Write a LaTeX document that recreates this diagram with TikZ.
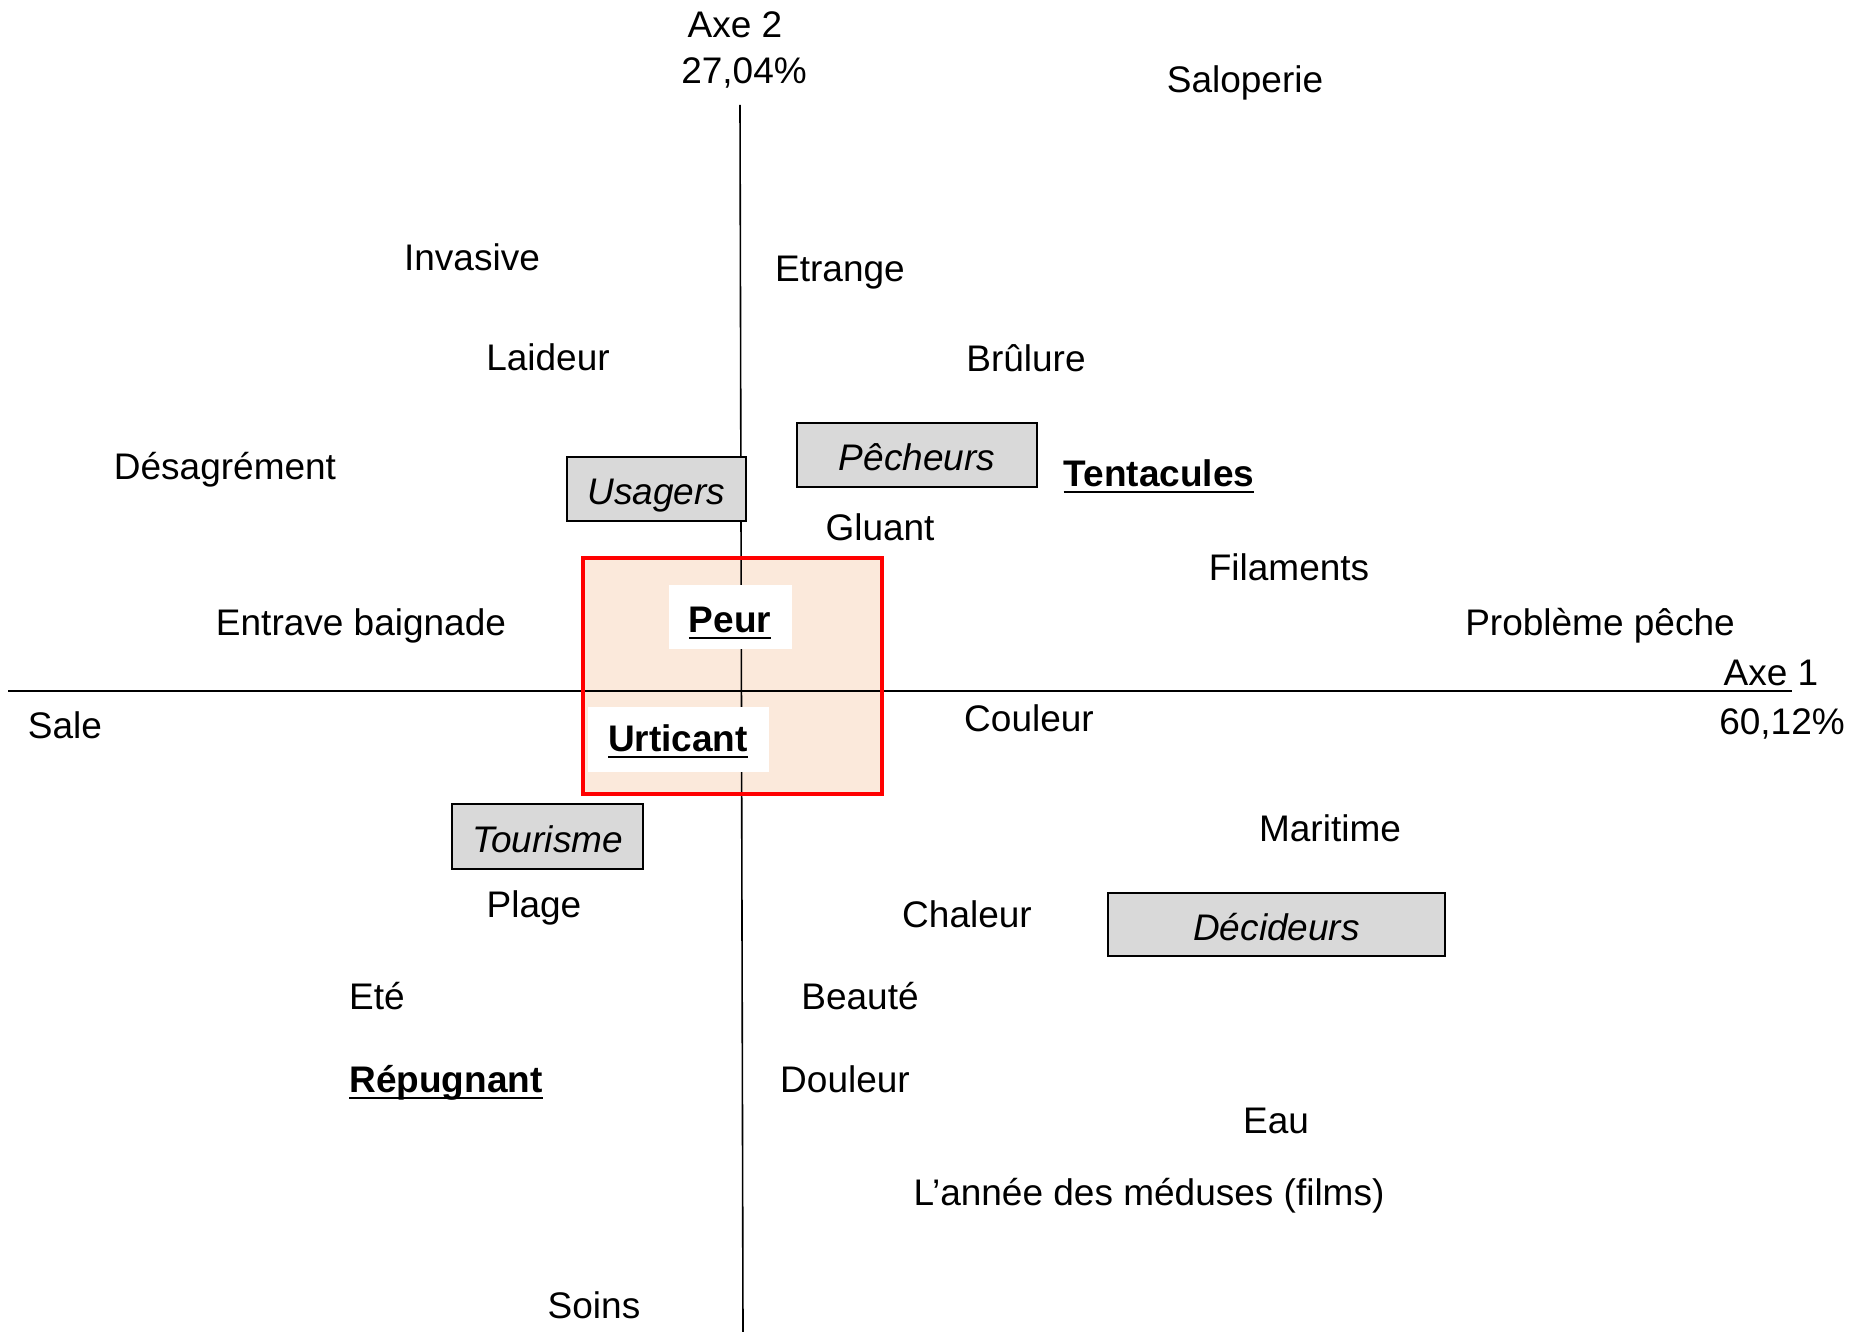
\documentclass[tikz,border=0pt]{standalone}
\usepackage{fontspec}
\setmainfont{Liberation Sans}
\newcommand\lblfont{\fontsize{18.5pt}{22pt}\selectfont}
% bold, underlined key term
\newlength\keywd
\newcommand\key[1]{\settowidth\keywd{\textbf{#1}}\textbf{#1}\llap{\rule[-3.5pt]{\keywd}{1.1pt}}}
\definecolor{zonefill}{RGB}{251,233,219}
\definecolor{groupfill}{RGB}{217,217,217}
\begin{document}
\begin{tikzpicture}[x=0.5pt,y=-0.5pt,
  lbl/.style={font=\lblfont, inner sep=0pt, text height=13.2pt, text depth=0pt, anchor=center},
  group/.style={lbl, draw=black, line width=0.8pt, fill=groupfill, font=\lblfont\itshape,
    text height=15.6pt, text depth=0pt},
  keybox/.style={lbl, fill=white},
  axis/.style={line width=0.8pt, draw=black}]
\useasboundingbox (0,0) rectangle (1849,1332);

% highlighted zone
\fill[zonefill] (583,558) rectangle (882,794);

% axes
\coordinate (x0) at (8,691);
\coordinate (x1) at (1792,691);
\coordinate (y0) at (740,105);
\coordinate (y1) at (743,1332);
\draw[axis] (x0) -- (x1);
\draw[axis] (y0) -- (y1);

\draw[red, line width=1.9pt] (583,558) rectangle (882,794);

% axis titles
\node[lbl] (ax2a) at (735,24) {Axe 2};
\node[lbl] (ax2b) at (744,70) {27,04\%};
\node[lbl] (ax1a) at (1771,672) {Axe 1};
\node[lbl] (ax1b) at (1782,721) {60,12\%};

% groups
\node[group, minimum width=89.5pt, minimum height=32pt] (usagers) at (656.5,489) {Usagers};
\node[group, minimum width=120pt, minimum height=32pt] (pecheurs) at (917,455) {Pêcheurs};
\node[group, minimum width=95.5pt, minimum height=32.5pt] (tourisme) at (547.5,836.5) {Tourisme};
\node[group, minimum width=168.5pt, minimum height=31.5pt] (decideurs) at (1276.5,924.5) {Décideurs};

% central terms
\node[keybox, minimum width=61.5pt, minimum height=32pt] (peurbox) at (730.5,617) {};
\node[lbl] (peur) at (730,619) {\key{Peur}};
\node[keybox, minimum width=90.5pt, minimum height=32.5pt] (urtbox) at (678.5,739.5) {};
\node[lbl] (urticant) at (678,738) {\key{Urticant}};

% words
\node[lbl] (saloperie) at (1245,79) {Saloperie};
\node[lbl] (invasive) at (472,257) {Invasive};
\node[lbl] (etrange) at (840,268) {Etrange};
\node[lbl] (laideur) at (548,357) {Laideur};
\node[lbl] (brulure) at (1026,358) {Brûlure};
\node[lbl] (desagrement) at (225,466) {Désagrément};
\node[lbl] (tentacules) at (1159,473) {\key{Tentacules}};
\node[lbl] (gluant) at (880,527) {Gluant};
\node[lbl] (filaments) at (1289,567) {Filaments};
\node[lbl] (entrave) at (361,622) {Entrave baignade};
\node[lbl] (probleme) at (1600,622) {Problème pêche};
\node[lbl] (sale) at (65,725) {Sale};
\node[lbl] (couleur) at (1029,718) {Couleur};
\node[lbl] (maritime) at (1330,828) {Maritime};
\node[lbl] (plage) at (534,904) {Plage};
\node[lbl] (chaleur) at (967,914) {Chaleur};
\node[lbl] (ete) at (377,996) {Eté};
\node[lbl] (beaute) at (860,996) {Beauté};
\node[lbl] (repugnant) at (446,1079) {\key{Répugnant}};
\node[lbl] (douleur) at (845,1079) {Douleur};
\node[lbl] (eau) at (1276,1120) {Eau};
\node[lbl] (annee) at (1149,1192) {L’année des méduses (films)};
\node[lbl] (soins) at (594,1305) {Soins};
\end{tikzpicture}
\end{document}
